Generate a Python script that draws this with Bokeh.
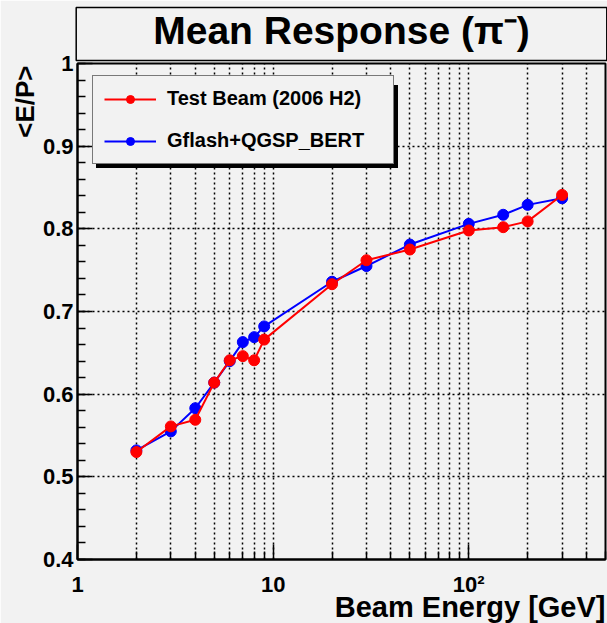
import numpy as np
from bokeh.plotting import figure
from bokeh.models import (FixedTicker, Legend, LegendItem, Range1d,
                          ColumnDataSource, Title)
from bokeh.embed import file_html
from bokeh.resources import INLINE

# ---------------- data ----------------
energy = [2, 3, 4, 5, 6, 7, 8, 9, 20, 30, 50, 100, 150, 200, 300]
test_beam = [0.530, 0.561, 0.569, 0.614, 0.641, 0.646, 0.641, 0.666,
             0.733, 0.762, 0.775, 0.798, 0.802, 0.809, 0.841]
gflash = [0.532, 0.555, 0.583, 0.614, 0.640, 0.663, 0.669, 0.682,
          0.736, 0.755, 0.781, 0.806, 0.817, 0.829, 0.837]

series_names = ["Test Beam (2006 H2)", "Gflash+QGSP_BERT"]
title_text = "Mean Response (\u03c0\u207b)"
x_title = "Beam Energy [GeV]"
y_title = "<E/P>"

x_tick_vals = [1, 10, 100]
x_tick_labels = ["1", "10", "10\u00b2"]
x_minor_ticks = [2, 3, 4, 5, 6, 7, 8, 9, 20, 30, 40, 50, 60, 70, 80, 90,
                 200, 300, 400, 500]
y_tick_vals = [0.4, 0.5, 0.6, 0.7, 0.8, 0.9, 1.0]
y_tick_labels = ["0.4", "0.5", "0.6", "0.7", "0.8", "0.9", "1"]
y_minor_ticks = [round(0.4 + 0.02 * i, 2) for i in range(31)]

x_lo, x_hi = 1, 500
y_lo, y_hi = 0.4, 1.0

# ---------------- geometry / style ----------------
BG = "#f2f2f2"
FONT = "Liberation Sans"
W, H = 607, 623
FL, FR, FT, FB = 77, 605, 63, 559

p = figure(width=W, height=H, x_axis_type="log",
           x_range=Range1d(x_lo, x_hi), y_range=Range1d(y_lo, y_hi),
           output_backend="svg", toolbar_location=None,
           min_border_left=FL, min_border_right=W - FR,
           min_border_top=FT, min_border_bottom=H - FB,
           background_fill_color=BG, border_fill_color=BG,
           outline_line_color="black", outline_line_width=2)

# axes
xa = p.xaxis[0]
xa.ticker = FixedTicker(ticks=x_tick_vals, minor_ticks=x_minor_ticks)
xa.major_label_overrides = dict(zip(x_tick_vals, x_tick_labels))
ya = p.yaxis[0]
ya.ticker = FixedTicker(ticks=y_tick_vals, minor_ticks=y_minor_ticks)
ya.major_label_overrides = dict(zip(y_tick_vals, y_tick_labels))

for ax in (xa, ya):
    ax.axis_label = None
    ax.axis_label_standoff = 0
    ax.axis_line_color = "black"
    ax.axis_line_width = 2
    ax.major_tick_line_color = "black"
    ax.major_tick_line_width = 1.5
    ax.minor_tick_line_color = "black"
    ax.minor_tick_line_width = 1.5
    ax.major_tick_out = 0
    ax.minor_tick_out = 0
    ax.major_tick_in = 15
    ax.minor_tick_in = 8
    ax.major_label_text_font = FONT
    ax.major_label_text_font_style = "bold"
    ax.major_label_text_font_size = "22px"
    ax.major_label_text_color = "black"
    ax.major_label_text_line_height = 1.0
ya.major_label_standoff = 4

# grid
for g in (p.xgrid[0], p.ygrid[0]):
    g.grid_line_color = "black"
    g.grid_line_dash = "2 3"
    g.grid_line_width = 1.5
p.xgrid[0].minor_grid_line_color = "black"
p.xgrid[0].minor_grid_line_dash = "2 3"
p.xgrid[0].minor_grid_line_width = 1.5

# data
src = ColumnDataSource(dict(e=energy, tb=test_beam, gf=gflash))
bl = p.line("e", "gf", source=src, line_color="blue", line_width=2)
bs = p.scatter("e", "gf", source=src, size=11, fill_color="blue", line_color="blue")
rl = p.line("e", "tb", source=src, line_color="red", line_width=2)
rs = p.scatter("e", "tb", source=src, size=11, fill_color="red", line_color="red")

# main title in a box
t = p.title
t.text = title_text
t.align = "center"
t.text_font = FONT
t.text_font_style = "bold"
t.text_font_size = "39px"
t.text_color = "black"
t.text_line_height = 1.1
t.background_fill_color = BG
t.border_line_color = "black"
t.border_line_width = 1.5
t.standoff = 6
try:
    t.padding = dict(left=77, right=77, top=1, bottom=9)
except Exception:
    t.padding = (77, 5)

# axis titles
p.add_layout(Title(text=y_title, align="right", offset=2, text_font=FONT,
                   text_font_style="bold", text_font_size="26px",
                   text_color="black", standoff=0, text_line_height=1.0), "left")
xt = Title(text=x_title, align="right", vertical_align="top", text_font=FONT,
           text_font_style="bold", text_font_size="29px", text_color="black",
           text_line_height=1.0)
xt.standoff = -18
xa.major_label_standoff = 12
p.add_layout(xt, "below")

# legend with shadow (location = left, bottom relative to frame)
LX, LY = 15, 395
common = dict(orientation="vertical", glyph_width=52, glyph_height=20,
              label_height=20, label_width=215, label_standoff=11, spacing=19,
              padding=11, margin=0, label_text_font=FONT,
              label_text_font_style="bold", label_text_font_size="20px")
items = [LegendItem(label=series_names[0], renderers=[rl, rs]),
         LegendItem(label=series_names[1], renderers=[bl, bs])]
shadow_items = [LegendItem(label=" ", renderers=[rl, rs]),
                LegendItem(label=" ", renderers=[bl, bs])]
shadow = Legend(items=shadow_items, location=(LX + 4, LY - 4),
                background_fill_color="black", background_fill_alpha=1,
                border_line_color="black", label_text_color="black", **common)
legend = Legend(items=items, location=(LX, LY),
                background_fill_color=BG, background_fill_alpha=1,
                border_line_color="black", border_line_width=1,
                label_text_color="black", **common)
p.add_layout(shadow, "center")
p.add_layout(legend, "center")

open("out.html", "w").write(file_html(p, INLINE))
